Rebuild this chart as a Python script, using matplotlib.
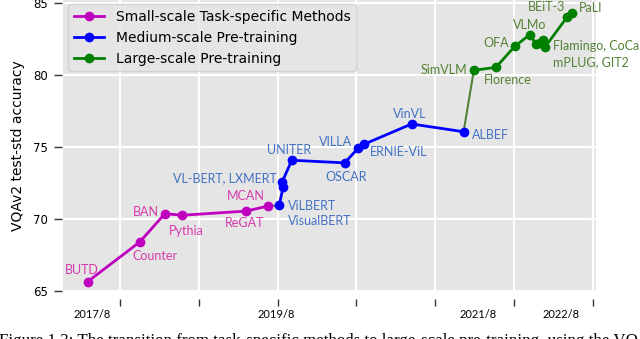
import numpy as np
import matplotlib
matplotlib.use("Agg")
from matplotlib import pyplot as plt

# x positions are in grid units (one unit = one vertical grid line step)
small_names = ["BUTD", "Counter", "BAN", "Pythia", "ReGAT", "MCAN"]
small_x = [0.59, 1.25, 1.57, 1.79, 2.60, 2.88]
small_y = [65.65, 68.4, 70.37, 70.26, 70.55, 70.9]

medium_names = ["ViLBERT", "VL-BERT", "LXMERT", "UNITER", "OSCAR", "VILLA",
                "ERNIE-ViL", "VinVL", "ALBEF"]
medium_x = [3.02, 3.07, 3.06, 3.18, 3.85, 4.02, 4.10, 4.70, 5.36]
medium_y = [70.95, 72.2, 72.6, 74.08, 73.9, 74.9, 75.2, 76.6, 76.06]

large_names = ["SimVLM", "Florence", "OFA", "VLMo", "Flamingo", "CoCa",
               "mPLUG", "GIT2", "BEiT-3", "PaLI"]
large_x = [5.49, 5.77, 6.01, 6.20, 6.28, 6.33, 6.37, 6.39, 6.67, 6.74]
large_y = [80.33, 80.53, 82.0, 82.8, 82.15, 82.2, 82.4, 81.92, 84.0, 84.3]

grid_x = [1, 2, 3, 4, 5, 6, 7]
date_x = [0.645, 2.98, 5.54, 6.595]
date_labels = ["2017/8", "2019/8", "2021/8", "2022/8"]
y_ticks = [65, 70, 75, 80, 85]

# annotation text: (text, anchor x, anchor y, dx px, dy px, ha)
pink = "#D63BAE"
blue = "#4472C4"
green = "#548235"
notes = [
    ("BUTD", small_x[0], small_y[0], -6, 12, "center", pink),
    ("Counter", small_x[1], small_y[1], 15, -14, "center", pink),
    ("BAN", small_x[2], small_y[2], -19, 2, "center", pink),
    ("Pythia", small_x[3], small_y[3], 4, -16, "center", pink),
    ("ReGAT", small_x[4], small_y[4], -2, -12, "center", pink),
    ("MCAN", small_x[5], small_y[5], -22, 10, "center", pink),
    ("ViLBERT", medium_x[0], medium_y[0], 9, -1, "left", blue),
    ("VisualBERT", medium_x[0], medium_y[0], 9, -16, "left", blue),
    ("VL-BERT, LXMERT", medium_x[2], medium_y[2], -6, 3, "right", blue),
    ("UNITER", medium_x[3], medium_y[3], -3, 10, "center", blue),
    ("OSCAR", medium_x[4], medium_y[4], 2, -14, "center", blue),
    ("VILLA", medium_x[5], medium_y[5], -6, 6, "right", blue),
    ("ERNIE-ViL", medium_x[6], medium_y[6], 6, -8, "left", blue),
    ("VinVL", medium_x[7], medium_y[7], -2, 10, "center", blue),
    ("ALBEF", medium_x[8], medium_y[8], 8, -3, "left", blue),
    ("SimVLM", large_x[0], large_y[0], -7, 0, "right", green),
    ("Florence", large_x[1], large_y[1], 12, -13, "center", green),
    ("OFA", large_x[2], large_y[2], -6, 3, "right", green),
    ("VLMo", large_x[3], large_y[3], 0, 10, "center", green),
    ("Flamingo, CoCa", large_x[7], large_y[7], 8, 1, "left", green),
    ("mPLUG, GIT2", large_x[7], large_y[7], 8, -15, "left", green),
    ("BEiT-3", large_x[8], large_y[8], -2, 10, "right", green),
    ("PaLI", large_x[9], large_y[9], 7, 5, "left", green),
]

fig = plt.figure(figsize=(6.4, 3.39), dpi=100)
ax = fig.add_axes([63 / 640, 1 - 292 / 339, 533 / 640, 292 / 339])
ax.set_facecolor("#E5E5E5")
for s in ax.spines.values():
    s.set_visible(False)
ax.spines["bottom"].set_position(("outward", 5))
ax.spines["left"].set_position(("outward", 1))

# connecting segments between groups
ax.plot([small_x[-1], medium_x[0]], [small_y[-1], medium_y[0]], color="#5F6F6F", lw=1.5, zorder=2)
ax.plot([medium_x[-1], large_x[0]], [medium_y[-1], large_y[0]], color=green, lw=1.5, zorder=2)

ax.plot(small_x, small_y, "m-o", lw=2, ms=6, label="Small-scale Task-specific Methods", zorder=3)
ax.plot(medium_x, medium_y, "b-o", lw=2, ms=6, label="Medium-scale Pre-training", zorder=3)
ax.plot(large_x, large_y, "g-o", lw=2, ms=6, label="Large-scale Pre-training", zorder=3)

for txt, x, y, dx, dy, ha, col in notes:
    ax.annotate(txt, (x, y), xytext=(dx, dy), textcoords="offset pixels",
                ha=ha, va="center", color=col, fontsize=9, family="Lato", zorder=4)

ax.set_xlim(0.277, 7.04)
ax.set_ylim(64.93, 85.21)
ax.set_xticks(grid_x)
ax.set_xticklabels([""] * len(grid_x))
ax.set_xticks(date_x, minor=True)
ax.set_xticklabels(date_labels, minor=True, family="Lato", fontsize=8)
ax.tick_params(axis="x", which="major", direction="out", length=5, width=1, color="#333333")
ax.tick_params(axis="x", which="minor", length=0, pad=7)
ax.set_yticks(y_ticks)
ax.tick_params(axis="y", direction="out", length=6, width=1, color="#333333", labelsize=8.5, pad=4)
ax.grid(True, which="major", color="white", lw=1.5, zorder=0)
ax.set_axisbelow(True)

ax.set_ylabel("VQAv2 test-std accuracy", fontsize=10, labelpad=6)

leg = ax.legend(loc="upper left", bbox_to_anchor=(0.01, 0.985), fontsize=10,
                frameon=True, borderaxespad=0, handlelength=2.2)
leg.get_frame().set_facecolor("#E5E5E5")
leg.get_frame().set_edgecolor("#CCCCCC")

fig.text(-0.002, -0.017, "Figure 1.3: The transition from task-specific methods to large-scale pre-training, using the VQA",
         family="Liberation Serif", fontsize=12.2, va="baseline", ha="left")

fig.savefig("out.png", dpi=100)
